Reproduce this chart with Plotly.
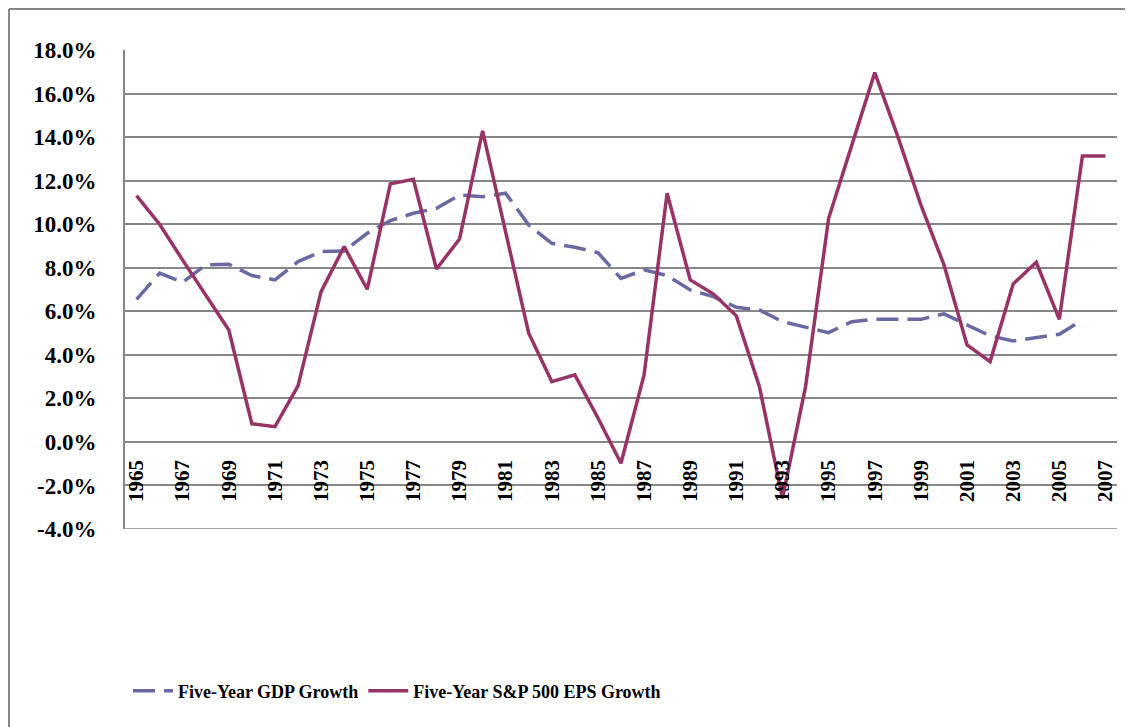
import plotly.graph_objects as go

# Data (percent)
years = [str(y) for y in range(1965, 2008)]

gdp_growth = [6.55, 7.75, 7.33, 8.13, 8.16, 7.64, 7.44, 8.28, 8.74, 8.77,
              9.58, 10.16, 10.50, 10.73, 11.34, 11.26, 11.42, 9.96, 9.12, 8.94,
              8.69, 7.51, 7.90, 7.64, 6.98, 6.67, 6.18, 6.06, 5.52, 5.29,
              5.02, 5.52, 5.63, 5.63, 5.63, 5.88, 5.37, 4.87, 4.64, 4.81,
              4.94, 5.60, None]

eps_growth = [11.31, 10.00, 8.35, 6.75, 5.14, 0.83, 0.70, 2.57, 6.90, 8.97,
              7.01, 11.85, 12.06, 7.94, 9.32, 14.29, 9.55, 4.99, 2.77, 3.08,
              1.10, -0.98, 3.08, 11.42, 7.44, 6.80, 5.79, 2.54, -2.59, 2.54,
              10.27, 13.64, 16.96, 14.02, 10.88, 8.13, 4.45, 3.69, 7.25, 8.25,
              5.63, 13.13, 13.13]

year_ticks = years[::2]
y_ticks = list(range(-4, 19, 2))
y_labels = [f"{v:.1f}%" for v in y_ticks]

# figure / plot geometry (px)
W, H = 1125, 719
ML, MR, MT, MB = 117, 16, 42, 198
PW, PH = W - ML - MR, H - MT - MB

font_family = "Liberation Serif, Times New Roman, serif"
grid_col = "#878787"

fig = go.Figure()

fig.add_trace(go.Scatter(
    x=years, y=gdp_growth, mode="lines", name="Five-Year GDP Growth",
    line=dict(color="#6A6AA2", width=3.5, dash="22px,9px"),
))
fig.add_trace(go.Scatter(
    x=years, y=eps_growth, mode="lines", name="Five-Year S&P 500 EPS Growth",
    line=dict(color="#983365", width=3.5),
))

# bottom edge of the plot area (-4% line)
fig.add_shape(type="line", xref="paper", yref="y", x0=0, x1=1,
              y0=y_ticks[0], y1=y_ticks[0], layer="below",
              line=dict(color=grid_col, width=1.6))

# outer frame (top and left edges visible in the window)
fx0 = -ML / PW + 1 / PW
fy1 = 1 + (MT - 1) / PH
fig.add_shape(type="line", xref="paper", yref="paper",
              x0=fx0, x1=1 + MR / PW, y0=fy1, y1=fy1,
              line=dict(color=grid_col, width=2))
fig.add_shape(type="line", xref="paper", yref="paper",
              x0=fx0, x1=fx0, y0=fy1, y1=-MB / PH,
              line=dict(color=grid_col, width=2))

fig.update_layout(
    width=W, height=H,
    margin=dict(l=ML, r=MR, t=MT, b=MB),
    paper_bgcolor="white", plot_bgcolor="white",
    font=dict(family=font_family, color="black"),
    showlegend=True,
    legend=dict(
        orientation="h", x=0.003, xanchor="left", y=-(683 - MT - PH) / PH,
        yanchor="middle", font=dict(size=18, weight="bold"),
        itemwidth=40, traceorder="normal",
    ),
    xaxis=dict(
        type="category", tickvals=year_ticks, ticktext=year_ticks,
        range=[-0.5, len(years) - 0.5],
        tickangle=-90, anchor="free", position=4 / 22,
        showgrid=False, showline=False, zeroline=False, ticks="",
        ticklabelstandoff=13,
        tickfont=dict(size=21, weight="bold"),
    ),
    yaxis=dict(
        range=[-4, 18], tickvals=y_ticks, ticktext=y_labels,
        showgrid=True, gridcolor=grid_col, gridwidth=1.6,
        zeroline=False, showline=True, linecolor=grid_col, linewidth=2,
        ticks="", ticklabelstandoff=22,
        tickfont=dict(size=23, weight="bold"),
    ),
)

fig.write_html("out.html")
